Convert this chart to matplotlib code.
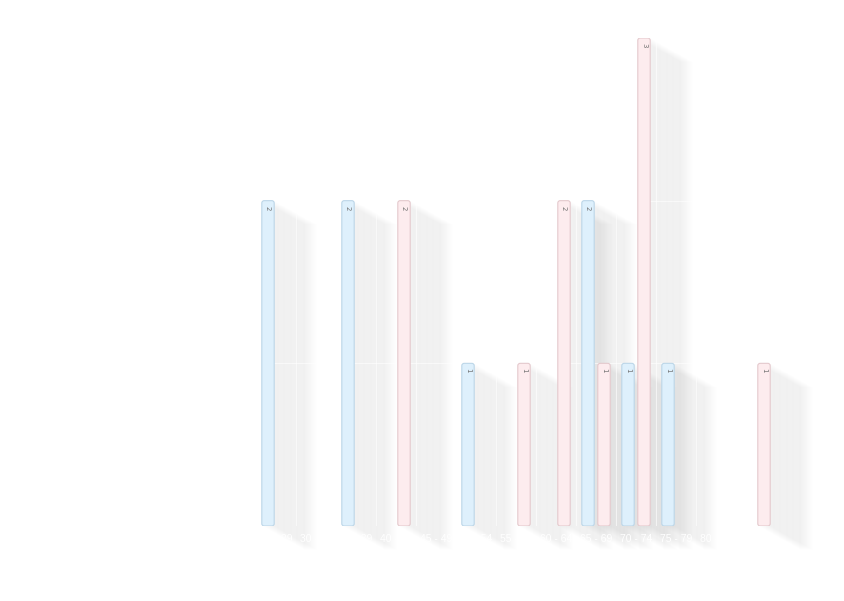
import matplotlib
matplotlib.use("Agg")
import matplotlib.pyplot as plt
import matplotlib.transforms as mtransforms
from matplotlib.patches import Rectangle, FancyBboxPatch
import numpy as np

categories = ["25 - 29", "30 - 34", "35 - 39", "40 - 44", "45 - 49", "50 - 54",
              "55 - 59", "60 - 64", "65 - 69", "70 - 74", "75 - 79", "80 - 84", "85 - 89"]
male = [2, 0, 2, 0, 0, 1, 0, 0, 2, 1, 1, 0, 0]
female = [0, 0, 0, 2, 0, 0, 1, 2, 1, 3, 0, 0, 1]

series = [(male, "#def0fc", "#bcd6e8", -0.2), (female, "#fdecee", "#e4c9cd", 0.2)]
bar_w = 0.31

fig = plt.figure(figsize=(8.45, 6.01), dpi=100)
ax = fig.add_axes([256 / 845, 75 / 601, 520 / 845, 488 / 601])
x = np.arange(len(categories))
ax.set_xlim(-0.5, len(categories) - 0.5)
ax.set_ylim(0, 3)

# long shadows
N = 60
for vals, fc, ec, off in series:
    for xi, v in zip(x, vals):
        if v <= 0:
            continue
        for i in range(N):
            t = (i + 1) / N
            tr = ax.transData + mtransforms.ScaledTranslation(52 * t / 100, -29 * t / 100, fig.dpi_scale_trans)
            r = Rectangle((xi + off - bar_w / 2, 0), bar_w, v, transform=tr,
                          facecolor="#b0b0b0", edgecolor="none",
                          alpha=0.0135 * (1 - t) ** 1.1, zorder=1, clip_on=False)
            ax.add_patch(r)

# white grid lines
for yv in [0, 1, 2, 3]:
    ax.axhline(yv, color="white", lw=0.8, alpha=0.6, zorder=2)
for b in np.arange(-0.5, len(categories) + 0.5, 1):
    ax.axvline(b, color="white", lw=0.8, alpha=0.6, zorder=2)

# px per data unit
ppx = 520 / len(categories)
ppy = 488 / 3.0
for vals, fc, ec, off in series:
    for xi, v in zip(x, vals):
        if v <= 0:
            continue
        p = FancyBboxPatch((xi + off - bar_w / 2, 0), bar_w, v,
                           boxstyle="round,pad=0,rounding_size=0.06",
                           mutation_aspect=ppx / ppy,
                           facecolor=fc, edgecolor=ec, linewidth=0.8, zorder=3)
        ax.add_patch(p)
        ax.annotate(str(v), (xi + off, v), xytext=(0, -3.5), textcoords="offset points",
                    ha="center", va="top", rotation=-90, fontsize=5, color="#707070", zorder=4)

for s in ax.spines.values():
    s.set_visible(False)
ax.set_xticks(x)
ax.set_xticklabels(categories, color="white", fontsize=7.5, family="Liberation Sans")
ax.tick_params(axis="x", length=0, pad=6)
ax.set_yticks([])
ax.set_facecolor("none")

fig.savefig("out.png", dpi=100, facecolor="white")
